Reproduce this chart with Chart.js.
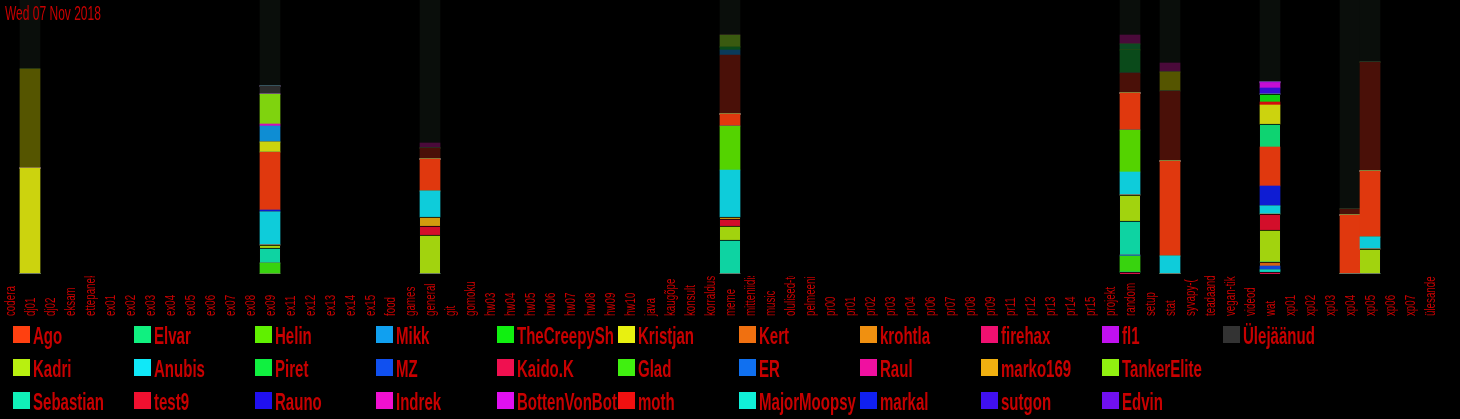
<!DOCTYPE html>
<html><head><meta charset="utf-8">
<script src="https://cdn.jsdelivr.net/npm/chart.js@4.4.0/dist/chart.umd.min.js"></script>
<style>html,body{margin:0;padding:0;background:#000;overflow:hidden}canvas{display:block}</style>
</head><body>
<canvas id="c" width="1460" height="419"></canvas>
<script>
// ---------------- data ----------------
const titleText = 'Wed 07 Nov 2018';

const categories = ['codera','dj01','dj02','eksam','ettepanek','ex01','ex02','ex03','ex04','ex05','ex06','ex07','ex08','ex09',
  'ex11','ex12','ex13','ex14','ex15','food','games','general','git','gomoku','hw03','hw04','hw05','hw06','hw07','hw08','hw09','hw10',
  'java','kaugõpe','konsult','korraldus','meme','mitteniidiseotud','music','olulised-teated','pelmeeni-','pr00','pr01','pr02','pr03','pr04',
  'pr06','pr07','pr08','pr09','pr11','pr12','pr13','pr14','pr15','projekt','random','setup','stat','syvapy-(','teadaanded',
  'vegan-tikk','videod','wat','xp01','xp02','xp03','xp04','xp05','xp06','xp07','ülesanded'];

// categories that have messages
const activeCategories = ['dj01','ex09','general','meme','random','stat','wat','xp04','xp05'];
const channelTotal     = [274, 274, 274, 274, 274, 274, 274, 274, 274];

// per-user counts in activeCategories order (current period)
const kaidoK       = [0, 0, 0, 0, 2, 0, 2, 0, 0];
const majorMoopsy  = [0, 0, 0, 0, 0, 0, 2, 0, 0];
const glad         = [0, 11, 0, 0, 16, 0, 0, 0, 0];
const mz           = [0, 0, 0, 0, 1, 0, 4, 0, 0];
const kert         = [0, 0, 0, 0, 0, 0, 4, 0, 0];
const sebastian    = [0, 15, 0, 34, 34, 0, 0, 0, 0];
const kadri        = [0, 3, 39, 14, 26, 0, 32, 0, 25];
const test9        = [0, 0, 9, 7, 0, 0, 16, 0, 0];
const marko169     = [0, 0, 9, 2, 0, 0, 0, 0, 0];
const anubis       = [0, 33, 26, 47, 23, 18, 8, 0, 12];
const helin        = [0, 0, 0, 44, 42, 0, 0, 0, 0];
const markal       = [0, 2, 0, 0, 0, 0, 20, 0, 0];
const ago          = [0, 58, 32, 12, 37, 95, 39, 59, 66];
const elvar        = [0, 0, 0, 0, 0, 0, 23, 0, 0];
const kristjan     = [106, 10, 0, 0, 0, 0, 19, 0, 0];
const moth         = [0, 0, 0, 0, 0, 0, 3, 0, 0];
const theCreepySh  = [0, 0, 0, 0, 0, 0, 8, 0, 0];
const mikk         = [0, 16, 0, 0, 0, 0, 0, 0, 0];
const indrek       = [0, 2, 0, 0, 0, 0, 0, 0, 0];
const tankerElite  = [0, 30, 0, 0, 0, 0, 0, 0, 0];
const sutgon       = [0, 0, 0, 0, 0, 0, 6, 0, 0];
const bottenVonBot = [0, 0, 0, 0, 0, 0, 5, 0, 0];
const fl1          = [0, 0, 0, 0, 0, 0, 1, 0, 0];
const ulejaanud    = [0, 8, 0, 0, 0, 0, 0, 0, 0];
const none         = [0, 0, 0, 0, 0, 0, 0, 0, 0];

// earlier period (drawn dimmed, above current)
const agoEarlier      = [0, 0, 11, 59, 20, 70, 0, 6, 109];
const mikkEarlier     = [0, 0, 0, 5, 0, 0, 0, 0, 0];
const elvarEarlier    = [0, 0, 0, 3, 23, 0, 0, 0, 0];
const kristjanEarlier = [99, 0, 0, 0, 0, 19, 0, 0, 0];
const piretEarlier    = [0, 0, 0, 0, 6, 0, 0, 0, 0];
const tankerEarlier   = [0, 0, 0, 12, 0, 0, 0, 0, 0];
const indrekEarlier   = [0, 0, 5, 0, 9, 9, 0, 0, 0];

// stacking order, bottom to top
const stackSeries = [
  ['Kaido.K', kaidoK], ['MajorMoopsy', majorMoopsy], ['Glad', glad], ['MZ', mz], ['Kert', kert],
  ['Sebastian', sebastian], ['Kadri', kadri], ['test9', test9], ['marko169', marko169], ['Anubis', anubis],
  ['Helin', helin], ['markal', markal], ['Ago', ago], ['Elvar', elvar], ['Kristjan', kristjan], ['moth', moth],
  ['TheCreepySh', theCreepySh], ['Mikk', mikk], ['Indrek', indrek], ['TankerElite', tankerElite],
  ['sutgon', sutgon], ['BottenVonBot', bottenVonBot], ['fl1', fl1], ['Ülejäänud', ulejaanud],
  ['Piret', none], ['Rauno', none], ['ER', none], ['krohtla', none], ['Raul', none], ['firehax', none], ['Edvin', none]
];
const earlierSeries = [
  ['Ago', agoEarlier], ['Mikk', mikkEarlier], ['Elvar', elvarEarlier], ['Kristjan', kristjanEarlier],
  ['Piret', piretEarlier], ['TankerElite', tankerEarlier], ['Indrek', indrekEarlier]
];

// legend order (column-major, 3 rows)
const legendNames = ['Ago','Kadri','Sebastian','Elvar','Anubis','test9','Helin','Piret','Rauno','Mikk','MZ','Indrek',
  'TheCreepySh','Kaido.K','BottenVonBot','Kristjan','Glad','moth','Kert','ER','MajorMoopsy','krohtla','Raul','markal',
  'firehax','marko169','sutgon','fl1','TankerElite','Edvin','Ülejäänud'];

// ---------------- styles ----------------
const userColors = {
  'Ago':'#ff4010','Kadri':'#b8f010','Sebastian':'#10f0b8','Elvar':'#10f080','Anubis':'#10e8f8','test9':'#f01030',
  'Helin':'#60f000','Piret':'#10f040','Rauno':'#2010f0','Mikk':'#10a0f0','MZ':'#1050f0','Indrek':'#f010d0',
  'TheCreepySh':'#10f010','Kaido.K':'#f01050','BottenVonBot':'#e010f0','Kristjan':'#e8f010','Glad':'#40f010',
  'moth':'#f01010','Kert':'#f07010','ER':'#1070f0','MajorMoopsy':'#10f0d8','krohtla':'#f09010','Raul':'#f010a0',
  'markal':'#1020f0','firehax':'#f01070','marko169':'#f0b010','sutgon':'#4010f0','fl1':'#c010f0',
  'TankerElite':'#90f010','Edvin':'#7010f0','Ülejäänud':'#333333'
};
const earlierColors = {
  'Ago':'#4a1008','Mikk':'#0a3a5a','Elvar':'#0a4a1a','Kristjan':'#555500','Piret':'#0c4a22','TankerElite':'#3a5a10','Indrek':'#4a0a3a'
};
// segments drawn with a thin black line on their top edge
const topLineUsers = ['Kaido.K','Kert','Sebastian','Kadri','test9','marko169','Elvar','TheCreepySh'];
const TEXT_RED = '#c80000';
const FONT = '"Liberation Sans", Arial, sans-serif';

function toPoints(arr) { return activeCategories.map((c, i) => ({x: c, y: arr[i]})); }
function dimmed(hex, k) {
  const n = parseInt(hex.slice(1), 16);
  const r = Math.round(((n >> 16) & 255) * k), g = Math.round(((n >> 8) & 255) * k), b = Math.round((n & 255) * k);
  return `rgb(${r},${g},${b})`;
}

const datasets = [];
stackSeries.forEach(([name, arr]) => datasets.push({
  label: name, data: toPoints(arr), backgroundColor: dimmed(userColors[name], 0.88),
  borderColor: '#000',
  borderWidth: topLineUsers.includes(name) ? {top: 1, left: 0, right: 0, bottom: 0} : 0,
  stack: 'users', order: 0
}));
earlierSeries.forEach(([name, arr]) => datasets.push({
  label: name + ' (varem)', data: toPoints(arr), backgroundColor: earlierColors[name],
  borderWidth: 0, stack: 'users', order: 0
}));
datasets.push({
  label: 'kokku', data: toPoints(channelTotal), backgroundColor: '#0a0e0b',
  borderWidth: 0, stack: 'total', order: 1
});

// ---------------- custom text plugin ----------------
function condensed(ctx, text, x, y, font, k) {
  ctx.save();
  ctx.translate(x, y); ctx.scale(k, 1);
  ctx.font = font;
  ctx.fillText(text, 0, 0);
  ctx.restore();
}

const textPlugin = {
  id: 'textPlugin',
  afterDraw(chart) {
    const ctx = chart.ctx;
    ctx.save();
    ctx.fillStyle = TEXT_RED;
    ctx.textBaseline = 'alphabetic';
    ctx.textAlign = 'left';
    condensed(ctx, titleText, 5, 20, `20px ${FONT}`, 0.6);
    ctx.restore();

    // category labels, rotated, reading upward from the bottom
    const xs = chart.scales.x;
    ctx.save();
    ctx.beginPath(); ctx.rect(0, 276, chart.width, 60); ctx.clip();
    ctx.fillStyle = TEXT_RED;
    ctx.font = `15px ${FONT}`;
    ctx.textAlign = 'left'; ctx.textBaseline = 'alphabetic';
    categories.forEach((lab, i) => {
      const px = xs.getPixelForValue(i);
      ctx.save();
      ctx.translate(px + 5, 316);
      ctx.rotate(-Math.PI / 2);
      ctx.scale(0.65, 1);
      ctx.fillText(lab, 0, 0);
      ctx.restore();
    });
    ctx.restore();

    // legend grid, column-major with 3 rows
    const legendFont = `bold 24px ${FONT}`;
    ctx.save();
    ctx.font = legendFont;
    const k = 71 / ctx.measureText('Sebastian').width;
    ctx.restore();
    legendNames.forEach((name, idx) => {
      const col = Math.floor(idx / 3), row = idx % 3;
      const bx = 13 + col * 121, by = 326 + row * 33;
      ctx.save();
      ctx.fillStyle = userColors[name];
      ctx.fillRect(bx, by, 17, 17);
      ctx.beginPath(); ctx.rect(bx + 18, by - 8, 102, 34); ctx.clip();
      ctx.fillStyle = TEXT_RED;
      ctx.textAlign = 'left'; ctx.textBaseline = 'alphabetic';
      condensed(ctx, name, bx + 20, by + 18, legendFont, k);
      ctx.restore();
    });
  }
};

new Chart(document.getElementById('c'), {
  type: 'bar',
  data: { labels: categories, datasets },
  options: {
    responsive: false, animation: false, devicePixelRatio: 1,
    layout: { padding: { left: 0, right: 20, top: 0, bottom: 145 } },
    datasets: { bar: { barPercentage: 1, categoryPercentage: 1, grouped: false, borderSkipped: false } },
    scales: {
      x: { type: 'category', labels: categories, stacked: true, display: false, offset: true },
      y: { stacked: true, display: false, min: 0, max: 274 }
    },
    plugins: { legend: { display: false }, title: { display: false }, tooltip: { enabled: false } }
  },
  plugins: [textPlugin]
});
</script>
</body></html>
